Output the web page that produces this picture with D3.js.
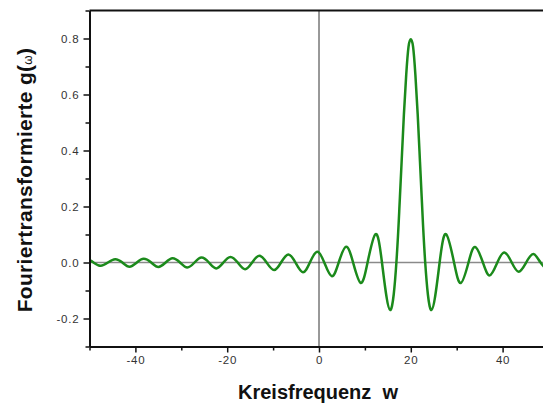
<!DOCTYPE html>
<html>
<head>
<meta charset="utf-8">
<script src="https://cdn.jsdelivr.net/npm/d3@7"></script>
<style>
    html, body { margin: 0; padding: 0; background: #ffffff; }
    .tick-labels text { font-family: "Liberation Sans", Arial, sans-serif; font-size: 11.5px; letter-spacing: 0.8px; fill: #333333; }
    .axis-title { font-family: "Liberation Sans", Arial, sans-serif; font-weight: bold; fill: #111111; }
</style>
</head>
<body>
<div id="fourier-chart"></div>
<script>
// Kreisfrequenz w (x values: extrema and zero crossings)
const omega = [
    -50, -49.12, -47.6, -45.97, -44.4, -42.83, -41.3, -39.69, -38.2, -36.55,
    -35.0, -33.41, -31.9, -30.27, -28.7, -27.12, -25.6, -23.98, -22.4, -20.84,
    -19.3, -17.7, -16.1, -14.56, -13.0, -11.42, -9.8, -8.27, -6.7, -5.13,
    -3.5, -1.99, -0.4, 1.15, 2.8, 4.29, 5.9, 7.43, 9.1, 10.58,
    12.3, 13.72, 15.5, 16.86, 17.5, 18.0, 18.5, 19.0, 19.5, 20.0,
    20.5, 21.0, 21.5, 22.0, 22.5, 23.14, 24.5, 26.28, 27.7, 29.42,
    30.9, 32.57, 34.0, 35.71, 37.2, 38.85, 40.4, 41.99, 43.5, 45.13,
    46.7, 48.27, 49.8, 50
];

// Fouriertransformierte g(w)
const gValue = [
    0.008, 0, -0.012, 0, 0.012, 0, -0.015, 0, 0.013, 0,
    -0.016, 0, 0.015, 0, -0.018, 0, 0.018, 0, -0.021, 0,
    0.020, 0, -0.024, 0, 0.024, 0, -0.027, 0, 0.029, 0,
    -0.035, 0, 0.038, 0, -0.049, 0, 0.056, 0, -0.073, 0,
    0.101, 0, -0.170, 0, 0.19, 0.36, 0.53, 0.67, 0.77, 0.797,
    0.77, 0.67, 0.53, 0.36, 0.19, 0, -0.170, 0, 0.101, 0,
    -0.073, 0, 0.055, 0, -0.046, 0, 0.036, 0, -0.033, 0,
    0.030, 0, -0.027, -0.027
];

// Axis ticks
const xTicks = [-40, -20, 0, 20, 40];
const xMinorTicks = [-50, -30, -10, 10, 30, 50];
const yTicks = [-0.2, 0.0, 0.2, 0.4, 0.6, 0.8];
const yMinorTicks = [-0.3, -0.1, 0.1, 0.3, 0.5, 0.7, 0.9];

(function () {
    const containerWidth = 543;
    const containerHeight = 406;

    // plot box runs a little past the right edge, like the original
    const margin = { top: 10.5, right: -5.5, bottom: 59.5, left: 89.5 };
    const width = containerWidth - margin.left - margin.right;
    const height = containerHeight - margin.top - margin.bottom;

    const svg = d3.select("#fourier-chart")
        .append("svg")
        .attr("width", containerWidth)
        .attr("height", containerHeight)
        .append("g")
        .attr("transform", `translate(${margin.left},${margin.top})`);

    const xScale = d3.scaleLinear().domain([-50, 50]).range([0, width]);
    const yScale = d3.scaleLinear().domain([-0.3, 0.9]).range([height, 0]);

    // zero line and vertical line at w = 0
    svg.append("line")
        .attr("x1", 0).attr("x2", width)
        .attr("y1", yScale(0)).attr("y2", yScale(0))
        .attr("stroke", "#8a8a8a")
        .attr("stroke-width", 1.5);

    svg.append("line")
        .attr("x1", xScale(0)).attr("x2", xScale(0))
        .attr("y1", 0).attr("y2", height)
        .attr("stroke", "#333333")
        .attr("stroke-width", 1);

    // the curve
    const points = omega.map((w, i) => [w, gValue[i]]);
    const line = d3.line()
        .x((d) => xScale(d[0]))
        .y((d) => yScale(d[1]))
        .curve(d3.curveNatural);

    svg.append("path")
        .datum(points)
        .attr("fill", "none")
        .attr("stroke", "#1b8a1b")
        .attr("stroke-width", 2.5)
        .attr("stroke-linejoin", "round")
        .attr("d", line);

    // frame: top line (right side is outside the picture)
    svg.append("line")
        .attr("x1", 0).attr("x2", width)
        .attr("y1", 0).attr("y2", 0)
        .attr("stroke", "#111111")
        .attr("stroke-width", 2);

    // minor ticks
    svg.append("g")
        .attr("transform", `translate(0, ${height})`)
        .call(d3.axisBottom(xScale).tickValues(xMinorTicks).tickSize(4).tickFormat(""))
        .call((g) => g.select(".domain").remove())
        .call((g) => g.selectAll(".tick line").attr("stroke", "#111").attr("stroke-width", 1.5));

    svg.append("g")
        .call(d3.axisLeft(yScale).tickValues(yMinorTicks).tickSize(4).tickFormat(""))
        .call((g) => g.select(".domain").remove())
        .call((g) => g.selectAll(".tick line").attr("stroke", "#111").attr("stroke-width", 1.5));

    // major axes
    const xAxis = d3.axisBottom(xScale)
        .tickValues(xTicks)
        .tickSize(6)
        .tickSizeOuter(0)
        .tickPadding(3)
        .tickFormat((d) => String(d));

    svg.append("g")
        .attr("class", "tick-labels")
        .attr("transform", `translate(0, ${height})`)
        .call(xAxis)
        .call((g) => g.select(".domain").attr("stroke", "#111").attr("stroke-width", 2))
        .call((g) => g.selectAll(".tick line").attr("stroke", "#111").attr("stroke-width", 1.5));

    const yAxis = d3.axisLeft(yScale)
        .tickValues(yTicks)
        .tickSize(6)
        .tickSizeOuter(0)
        .tickPadding(4)
        .tickFormat((d) => d.toFixed(1));

    svg.append("g")
        .attr("class", "tick-labels")
        .call(yAxis)
        .call((g) => g.select(".domain").attr("stroke", "#111").attr("stroke-width", 2))
        .call((g) => g.selectAll(".tick line").attr("stroke", "#111").attr("stroke-width", 1.5));

    // axis titles
    svg.append("text")
        .attr("class", "axis-title")
        .attr("font-size", "20px")
        .attr("text-anchor", "middle")
        .attr("x", xScale(0) - 1)
        .attr("y", height + 52)
        .text("Kreisfrequenz\u00a0\u00a0w");

    const yTitle = svg.append("text")
        .attr("class", "axis-title")
        .attr("font-size", "21px")
        .attr("letter-spacing", "0.3px")
        .attr("text-anchor", "middle")
        .attr("transform", "rotate(-90)")
        .attr("x", -(180 - margin.top))
        .attr("y", 32 - margin.left);
    yTitle.append("tspan").text("Fouriertransformierte g(");
    yTitle.append("tspan").attr("font-size", "12px").attr("font-weight", "normal").text("ω");
    yTitle.append("tspan").text(")");
})();
</script>
</body>
</html>
